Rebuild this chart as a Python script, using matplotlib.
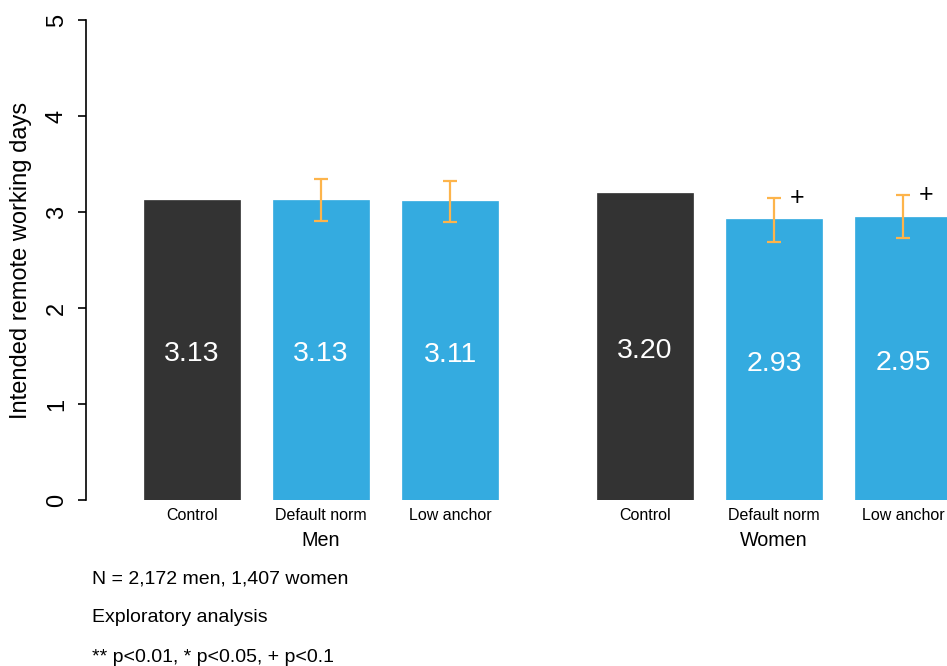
import numpy as np
import matplotlib
matplotlib.use("Agg")
import matplotlib.pyplot as plt
from matplotlib.transforms import blended_transform_factory

plt.rcParams['font.family'] = ['Liberation Sans', 'DejaVu Sans']

groups = ["Men", "Women"]
conditions = ["Control", "Default norm", "Low anchor"]
means = [[3.13, 3.13, 3.11], [3.20, 2.93, 2.95]]
ci_low = [[None, 2.91, 2.90], [None, 2.69, 2.73]]
ci_high = [[None, 3.34, 3.32], [None, 3.15, 3.18]]
signif = [["", "", ""], ["", "+", "+"]]
notes = ["N = 2,172 men, 1,407 women",
         "Exploratory analysis",
         "** p<0.01, * p<0.05, + p<0.1"]

bar_colors = ["#333333", "#34ABE0", "#34ABE0"]
err_color = "#FDB44B"

fig = plt.figure(figsize=(9.47, 6.66), dpi=100)
ax = fig.add_axes([86 / 947, 1 - 500 / 666, 861 / 947, 480 / 666])

bar_w = 1.0
inner_gap = 0.344
group_gap = 1.031
centers = []
x = 0.0
for g in range(len(groups)):
    grp = []
    for c in range(len(conditions)):
        grp.append(x)
        x += bar_w + inner_gap
    x += group_gap - inner_gap
    centers.append(grp)

for g in range(len(groups)):
    for c in range(len(conditions)):
        xc = centers[g][c]
        m = means[g][c]
        ax.bar(xc, m, width=bar_w, color=bar_colors[c], edgecolor=bar_colors[c], linewidth=0.5)
        ax.annotate(f"{m:.2f}", (xc, m / 2), xytext=(0, -3), textcoords="offset points",
                    color="white", ha="center", va="center", fontsize=20.5)
        if ci_low[g][c] is not None:
            lo, hi = ci_low[g][c], ci_high[g][c]
            ax.errorbar(xc, m, yerr=[[m - lo], [hi - m]], fmt="none",
                        ecolor=err_color, elinewidth=1.6, capsize=4.8, capthick=1.6)
            if signif[g][c]:
                ax.text(xc + 0.24, hi, signif[g][c], ha="center", va="center",
                        fontsize=18, color="black")

ax.set_xlim(-1.104, 7.865)
ax.set_ylim(0, 5)

all_centers = [xc for grp in centers for xc in grp]
ax.set_xticks(all_centers)
ax.set_xticklabels(conditions * len(groups), fontsize=11.5)
ax.tick_params(axis="x", length=0, pad=6)

ax.set_yticks(range(6))
ax.set_yticklabels([str(v) for v in range(6)], rotation=90, va="center", fontsize=17)
ax.tick_params(axis="y", length=6, width=1.2, pad=7)

for s in ["top", "right", "bottom"]:
    ax.spines[s].set_visible(False)
ax.spines["left"].set_bounds(0, 5)
ax.spines["left"].set_linewidth(1.2)

ax.set_ylabel("Intended remote working days", fontsize=17)
ax.yaxis.set_label_coords(-0.063, 0.5)

trans = blended_transform_factory(ax.transData, ax.transAxes)
for g, name in enumerate(groups):
    ax.text(centers[g][1], -41 / 480, name, transform=trans, ha="center", va="center", fontsize=14.2)

for i, t in enumerate(notes):
    fig.text(92 / 947, 1 - (579 + 39 * i) / 666, t, ha="left", va="center", fontsize=14)

fig.savefig("out.png", dpi=100)
